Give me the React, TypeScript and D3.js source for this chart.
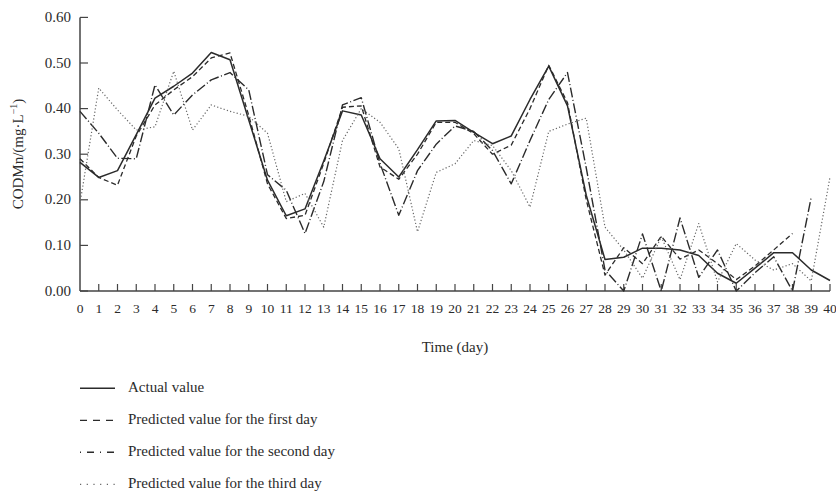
import React from "react";
import * as d3 from "d3";

const days = d3.range(0, 41);
const yTicks = [0, 0.1, 0.2, 0.3, 0.4, 0.5, 0.6];

const actual = [0.282, 0.249, 0.264, 0.343, 0.423, 0.449, 0.478, 0.523, 0.507, 0.375, 0.243, 0.165, 0.18, 0.285, 0.395, 0.386, 0.29, 0.25, 0.31, 0.373, 0.374, 0.348, 0.323, 0.34, 0.42, 0.493, 0.406, 0.21, 0.069, 0.074, 0.094, 0.094, 0.09, 0.078, 0.039, 0.017, 0.05, 0.084, 0.084, 0.046, 0.023];
const predFirst = [0.29, 0.249, 0.232, 0.34, 0.408, 0.441, 0.47, 0.511, 0.522, 0.385, 0.235, 0.159, 0.166, 0.28, 0.403, 0.406, 0.272, 0.245, 0.3, 0.37, 0.37, 0.345, 0.3, 0.32, 0.4, 0.495, 0.413, 0.2, 0.035, 0.095, 0.06, 0.12, 0.07, 0.09, 0.06, 0.025, 0.055, 0.09, 0.126];
const predSecond = [0.394, 0.346, 0.291, 0.29, 0.452, 0.386, 0.43, 0.463, 0.479, 0.441, 0.255, 0.221, 0.126, 0.24, 0.408, 0.424, 0.28, 0.166, 0.264, 0.322, 0.362, 0.35, 0.308, 0.235, 0.33, 0.42, 0.479, 0.27, 0.046, 0.0, 0.125, 0.0, 0.16, 0.03, 0.09, 0.0, 0.04, 0.075, 0.0, 0.206];
const predThird = [0.192, 0.445, 0.397, 0.353, 0.36, 0.482, 0.353, 0.408, 0.394, 0.383, 0.346, 0.196, 0.214, 0.14, 0.33, 0.4, 0.37, 0.312, 0.13, 0.26, 0.279, 0.33, 0.319, 0.264, 0.184, 0.35, 0.366, 0.379, 0.14, 0.09, 0.028, 0.119, 0.025, 0.148, 0.02, 0.104, 0.068, 0.046, 0.06, 0.022, 0.25];

const legendLabels = [
  "Actual value",
  "Predicted value for the first day",
  "Predicted value for the second day",
  "Predicted value for the third day",
];

const FONT = "'Liberation Serif', 'DejaVu Serif', serif";
const INK = "#2b2b2b";

export default function App() {
  const W = 836, H = 493;
  const x = d3.scaleLinear().domain([0, 40]).range([80, 830]);
  const y = d3.scaleLinear().domain([0, 0.6]).range([291, 17.4]);

  const line = d3.line<number>().x((_, i) => x(days[i])).y((v) => y(v));

  const series = [
    { data: actual, dash: "none", color: INK, width: 1.5, legendDash: "none" },
    { data: predFirst, dash: "5,3", color: INK, width: 1.3, legendDash: "7,6" },
    { data: predSecond, dash: "10,2.5,1,2.5", color: INK, width: 1.4, legendDash: "1,6,7,6" },
    { data: predThird, dash: "1.2,2.2", color: "#666", width: 1.2, legendDash: "1.2,5.5" },
  ];

  return (
    <svg width={W} height={H} style={{ position: "absolute", left: 0, top: 0, background: "#fff" }}>
      {/* axes */}
      <line x1={80} x2={80} y1={y(0.6)} y2={y(0)} stroke="#444" strokeWidth={1.5} />
      <line x1={80} x2={830} y1={y(0)} y2={y(0)} stroke="#444" strokeWidth={1.5} />
      {yTicks.map((t) => (
        <g key={t}>
          <line x1={80} x2={88} y1={y(t)} y2={y(t)} stroke="#444" strokeWidth={1.2} />
          <text x={71} y={y(t) + 4.5} textAnchor="end" fontFamily={FONT} fontSize={15} fill={INK}>
            {t.toFixed(2)}
          </text>
        </g>
      ))}
      {days.map((d) => (
        <g key={d}>
          {d > 0 && <line x1={x(d)} x2={x(d)} y1={y(0)} y2={y(0) - 7} stroke="#444" strokeWidth={1.2} />}
          <text x={x(d)} y={312.5} textAnchor="middle" fontFamily={FONT} fontSize={13.5} fill={INK}>
            {d}
          </text>
        </g>
      ))}
      <text x={455} y={352} textAnchor="middle" fontFamily={FONT} fontSize={15} fill={INK}>
        Time (day)
      </text>
      <text transform={`translate(23,154) rotate(-90)`} textAnchor="middle" fontFamily={FONT} fontSize={15} fill={INK}>
        CODMn/(mg·L
        <tspan fontSize={10} dy={-6}>−1</tspan>
        <tspan dy={6}>)</tspan>
      </text>

      {/* lines */}
      {series.map((s, i) => (
        <path key={i} d={line(s.data) || ""} fill="none" stroke={s.color} strokeWidth={s.width}
          strokeDasharray={s.dash} strokeLinejoin="round" />
      ))}

      {/* legend */}
      {series.map((s, i) => {
        const ly = 388.3 + i * 32;
        return (
          <g key={i}>
            <line x1={80} x2={115} y1={ly} y2={ly} stroke={s.color} strokeWidth={s.width}
              strokeDasharray={s.legendDash} />
            <text x={128} y={ly + 3.8} fontFamily={FONT} fontSize={15} fill={INK}>
              {legendLabels[i]}
            </text>
          </g>
        );
      })}
    </svg>
  );
}
